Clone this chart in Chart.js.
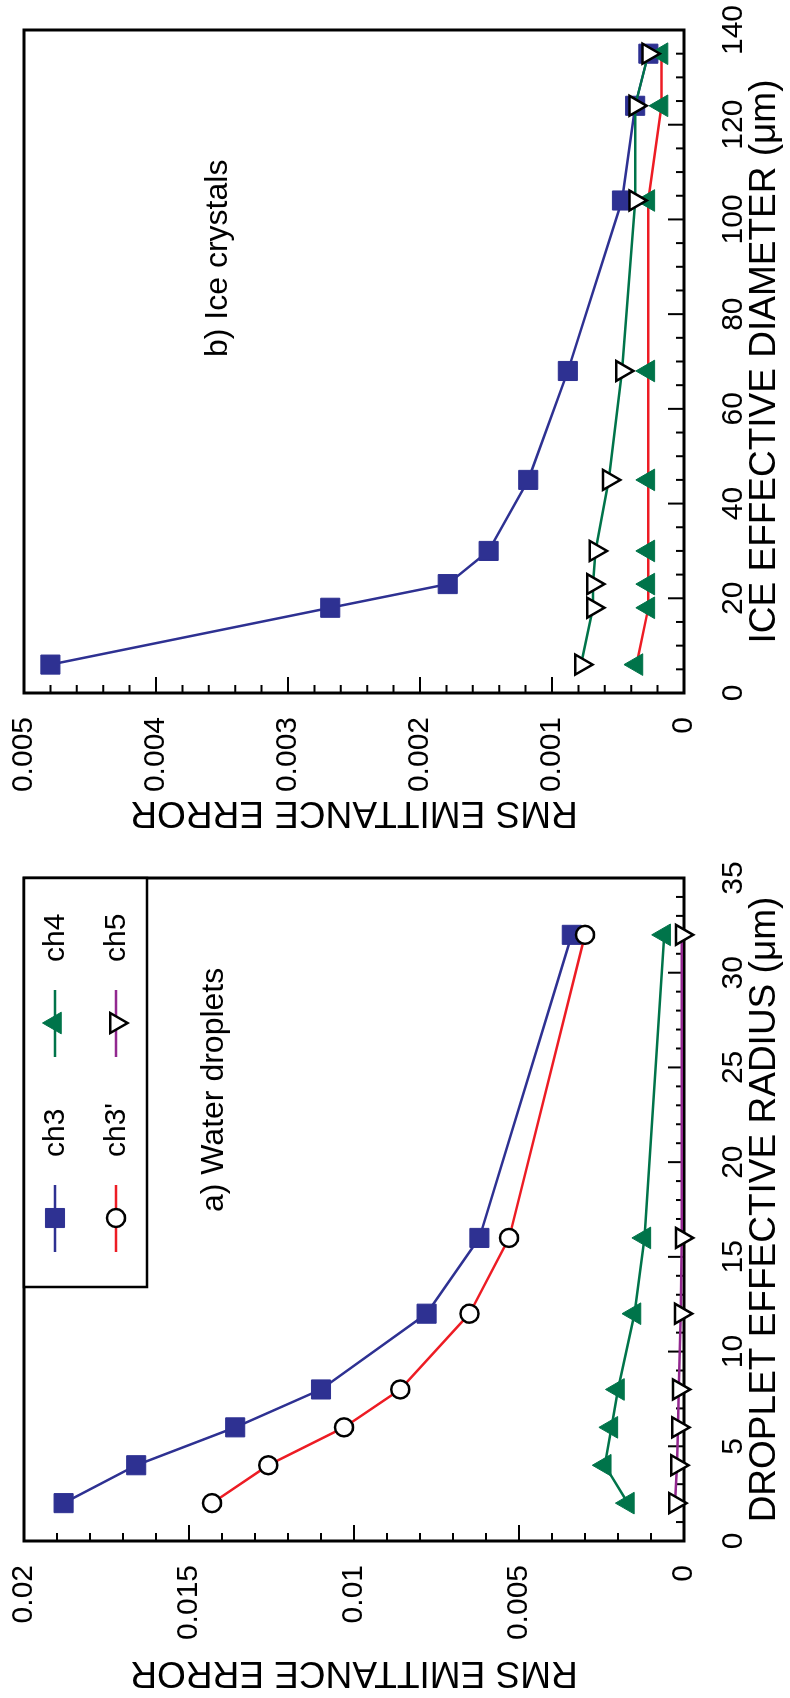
<!DOCTYPE html>
<html>
<head>
<meta charset="utf-8">
<script src="https://cdn.jsdelivr.net/npm/chart.js@4.4.0/dist/chart.umd.min.js"></script>
<style>
  html, body { margin: 0; padding: 0; background: #fff; overflow: hidden; }
  /* the figure is laid out landscape and turned a quarter to fit the page */
  #sheet {
    position: absolute; left: 0; top: 0;
    width: 1698px; height: 790px;
    transform-origin: 0 0;
    transform: translateY(1698px) rotate(-90deg);
  }
  #sheet canvas { position: absolute; top: 0; }
</style>
</head>
<body>
<div id="sheet">
  <canvas id="waterChart" width="860" height="790" style="left:0"></canvas>
  <canvas id="iceChart" width="838" height="790" style="left:860px"></canvas>
</div>
<script>
// a) water droplets: effective radius (um) vs rms emittance error
const radius = [2, 4, 6, 8, 12, 16, 32];
const waterCh3 = [0.0188, 0.0166, 0.0136, 0.0110, 0.0078, 0.0062, 0.0034];
const waterCh3p = [0.0143, 0.0126, 0.0103, 0.0086, 0.0065, 0.0053, 0.0030];
const waterCh4 = [0.0017, 0.0024, 0.0022, 0.0020, 0.0015, 0.0012, 0.0006];
const waterCh5 = [0.00027, 0.00021, 0.00018, 0.00016, 0.00010, 0.00007, 0.00007];

// b) ice crystals: effective diameter (um) vs rms emittance error
const diameter = [6, 18, 23, 30, 45, 68, 104, 124, 135];
const iceCh3 = [0.0048, 0.00268, 0.00179, 0.00148, 0.00118, 0.00088, 0.00047, 0.00037, 0.00027];
const iceCh4 = [0.00036, 0.00027, 0.00027, 0.00027, 0.00027, 0.00027, 0.00027, 0.00017, 0.00017];
const iceCh5 = [0.00078, 0.00069, 0.00069, 0.00067, 0.00057, 0.00047, 0.00037, 0.00037, 0.00027];

const radiusTicks = [0, 5, 10, 15, 20, 25, 30, 35];
const diameterTicks = [0, 20, 40, 60, 80, 100, 120, 140];

const BLUE = '#2e3192';
const RED = '#ed1c24';
const GREEN = '#00744a';
const PURPLE = '#92278f';
const FONT = "'Liberation Sans', Arial, Helvetica, sans-serif";

function series(label, xs, ys, style) {
    return Object.assign({
        label: label,
        data: xs.map(function(x, i) { return {x: x, y: ys[i]}; }),
        borderWidth: 2.5,
        tension: 0,
        clip: false
    }, style);
}

const squareBlue = { pointStyle: 'rect', pointRadius: 13.5, pointBackgroundColor: BLUE, pointBorderColor: BLUE, pointBorderWidth: 1 };
const openCircle = { pointStyle: 'circle', pointRadius: 9, pointBackgroundColor: '#fff', pointBorderColor: '#000', pointBorderWidth: 2.5 };
const solidUp = { pointStyle: 'triangle', pointRadius: 12.5, pointBackgroundColor: GREEN, pointBorderColor: GREEN, pointBorderWidth: 1 };
const openDown = { pointStyle: 'triangle', pointRotation: 180, pointRadius: 11.5, pointBackgroundColor: '#fff', pointBorderColor: '#000', pointBorderWidth: 2.5 };

// frame round the plot area plus inward tick marks (long on labelled ticks)
const frameTicks = {
    id: 'frameTicks',
    beforeDatasetsDraw(chart) {
        const ctx = chart.ctx, a = chart.chartArea;
        const xs = chart.scales.x, ys = chart.scales.y;
        ctx.save();
        ctx.strokeStyle = '#000';
        ctx.lineWidth = 2;
        ctx.beginPath();
        xs.ticks.forEach(function(t) {
            const px = xs.getPixelForValue(t.value);
            const len = t.label !== '' ? 16 : 8;
            ctx.moveTo(px, a.bottom);
            ctx.lineTo(px, a.bottom - len);
        });
        ys.ticks.forEach(function(t) {
            const py = ys.getPixelForValue(t.value);
            const len = t.label !== '' ? 16 : 8;
            ctx.moveTo(a.left, py);
            ctx.lineTo(a.left + len, py);
        });
        ctx.stroke();
        ctx.lineWidth = 3;
        ctx.strokeRect(a.left, a.top, a.right - a.left, a.bottom - a.top);
        ctx.restore();
    }
};

// panel caption and, for the droplet panel, the boxed 2x2 key
const panelText = {
    id: 'panelText',
    afterDatasetsDraw(chart, args, opts) {
        const ctx = chart.ctx, a = chart.chartArea;
        ctx.save();
        ctx.fillStyle = '#000';
        ctx.font = '32px ' + FONT;
        ctx.textBaseline = 'alphabetic';
        ctx.fillText(opts.caption, a.left + opts.captionX, a.top + opts.captionY);

        if (opts.key) {
            const w = 409, h = 123;
            const left = a.right - w, top = a.top;
            ctx.fillStyle = '#fff';
            ctx.fillRect(left, top, w, h);
            ctx.strokeStyle = '#000';
            ctx.lineWidth = 2.5;
            ctx.strokeRect(left, top, w, h);
            const cols = [35, 230];
            const rows = [31, 92];
            chart.data.datasets.forEach(function(ds, i) {
                const cx = left + cols[Math.floor(i / 2)];
                const cy = top + rows[i % 2];
                ctx.strokeStyle = ds.borderColor;
                ctx.lineWidth = 2.5;
                ctx.beginPath();
                ctx.moveTo(cx, cy);
                ctx.lineTo(cx + 67, cy);
                ctx.stroke();
                ctx.fillStyle = ds.pointBackgroundColor;
                ctx.strokeStyle = ds.pointBorderColor;
                ctx.lineWidth = ds.pointBorderWidth;
                Chart.helpers.drawPoint(ctx, {
                    pointStyle: ds.pointStyle,
                    radius: ds.pointRadius,
                    rotation: ds.pointRotation || 0,
                    borderWidth: ds.pointBorderWidth
                }, cx + 34, cy);
                ctx.fillStyle = '#000';
                ctx.font = '30px ' + FONT;
                ctx.textBaseline = 'middle';
                ctx.fillText(ds.label, cx + 95, cy + 1);
            });
        }
        ctx.restore();
    }
};

function labelAt(list) {
    return function(v) {
        return list.some(function(t) { return Math.abs(t - v) < 1e-9; }) ? String(+v.toFixed(4)) : '';
    };
}

function buildOptions(p) {
    return {
        responsive: false,
        animation: false,
        layout: { padding: { top: 24, right: p.padRight, left: 0, bottom: 0 } },
        plugins: {
            legend: { display: false },
            tooltip: { enabled: false },
            panelText: { caption: p.caption, captionX: p.captionX, captionY: p.captionY, key: p.key }
        },
        scales: {
            x: {
                type: 'linear', position: 'bottom',
                min: p.xMin, max: p.xMax,
                grid: { display: false, drawTicks: false },
                border: { display: false },
                ticks: {
                    stepSize: p.xStep, autoSkip: false, maxRotation: 0,
                    padding: 32, color: '#000',
                    font: { family: FONT, size: 30 },
                    callback: labelAt(p.xLabels)
                },
                title: {
                    display: true, text: p.xTitle, color: '#000',
                    font: { family: FONT, size: 37 },
                    padding: { top: 0, bottom: 3 }
                },
                // fixed band under the plot; end labels may overhang the frame
                afterFit: function(s) { s.height = 106; s.paddingLeft = 0; s.paddingRight = 0; }
            },
            y: {
                type: 'linear', position: 'left',
                min: 0, max: p.yMax,
                grid: { display: false, drawTicks: false },
                border: { display: false },
                ticks: {
                    stepSize: p.yStep, autoSkip: false,
                    padding: 24, color: '#000',
                    font: { family: FONT, size: 30 },
                    callback: labelAt(p.yLabels)
                },
                title: {
                    display: true, text: 'RMS EMITTANCE ERROR', color: '#000',
                    font: { family: FONT, size: 37 },
                    padding: { top: 4, bottom: 0 }
                },
                afterFit: function(s) { s.width = p.axisWidth; s.paddingTop = 0; s.paddingBottom = 0; }
            }
        }
    };
}

new Chart(document.getElementById('waterChart'), {
    type: 'line',
    data: {
        datasets: [
            series('ch3', radius, waterCh3, Object.assign({ borderColor: BLUE, order: 4 }, squareBlue)),
            series("ch3'", radius, waterCh3p, Object.assign({ borderColor: RED, order: 3 }, openCircle)),
            series('ch4', radius, waterCh4, Object.assign({ borderColor: GREEN, order: 2 }, solidUp)),
            series('ch5', radius, waterCh5, Object.assign({ borderColor: PURPLE, order: 1 }, openDown))
        ]
    },
    options: buildOptions({
        padRight: 40, axisWidth: 157,
        xMin: 0, xMax: 35, xStep: 1, xLabels: radiusTicks,
        xTitle: 'DROPLET EFFECTIVE RADIUS (\u03bcm)',
        yMax: 0.02, yStep: 0.001, yLabels: [0, 0.005, 0.01, 0.015, 0.02],
        caption: 'a) Water droplets', captionX: 329, captionY: 199, key: true
    }),
    plugins: [frameTicks, panelText]
});

new Chart(document.getElementById('iceChart'), {
    type: 'line',
    data: {
        datasets: [
            series('ch3', diameter, iceCh3, Object.assign({ borderColor: BLUE, order: 3 }, squareBlue)),
            series('ch4', diameter, iceCh4, Object.assign({ borderColor: RED, order: 2 }, solidUp)),
            series('ch5', diameter, iceCh5, Object.assign({ borderColor: GREEN, order: 1 }, openDown))
        ]
    },
    options: buildOptions({
        padRight: 30, axisWidth: 145,
        xMin: 0, xMax: 140, xStep: 5, xLabels: diameterTicks,
        xTitle: 'ICE EFFECTIVE DIAMETER (\u03bcm)',
        yMax: 0.005, yStep: 0.0002, yLabels: [0, 0.001, 0.002, 0.003, 0.004, 0.005],
        caption: 'b) Ice crystals', captionX: 336, captionY: 203, key: false
    }),
    plugins: [frameTicks, panelText]
});
</script>
</body>
</html>
